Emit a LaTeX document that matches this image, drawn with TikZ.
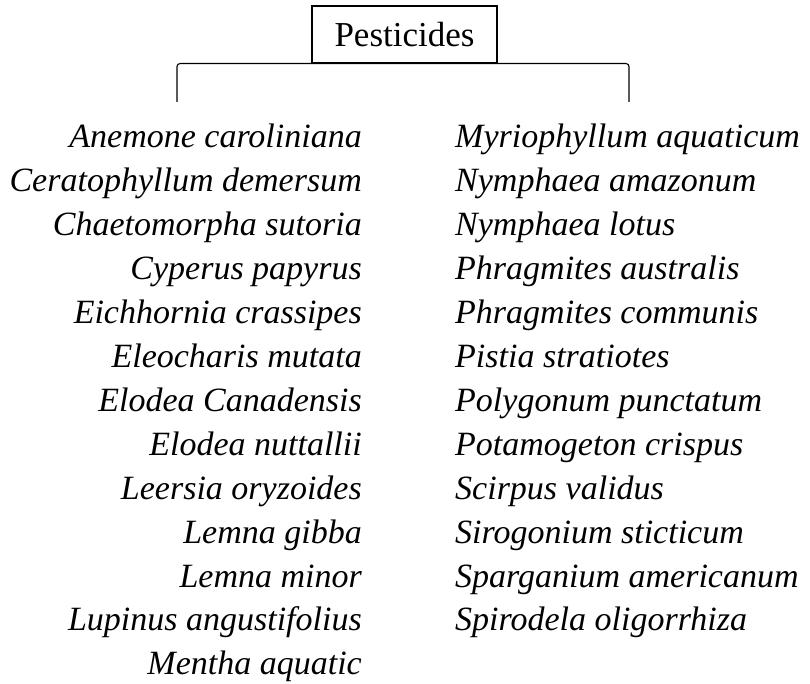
\documentclass[tikz,border=0pt]{standalone}
\usepackage{fontspec}
\setmainfont{Liberation Serif}
\tikzset{
  titlebox/.style={draw,line width=1.1pt,minimum width=185pt,minimum height=57pt,inner sep=0pt,font=\fontsize{35}{40}\selectfont},
  plantleft/.style={anchor=base east,inner sep=0pt,font=\fontsize{34}{40}\selectfont\itshape},
  plantright/.style={anchor=base west,inner sep=0pt,font=\fontsize{34}{40}\selectfont\itshape},
  bracket/.style={line width=1.1pt,rounded corners=3pt}
}
\begin{document}
\begin{tikzpicture}[x=1pt,y=-1pt]
  \useasboundingbox (0,0) rectangle (810,684);
  \node[titlebox] (title) at (404.5,34.5) {Pesticides};
  \coordinate (bl) at (177,102);
  \coordinate (br) at (629,102);
  \draw[bracket] (bl) |- (title.south) -| (br);
  \foreach \name [count=\i] in {Anemone caroliniana,Ceratophyllum demersum,
      Chaetomorpha sutoria,Cyperus papyrus,Eichhornia crassipes,Eleocharis mutata,
      Elodea Canadensis,Elodea nuttallii,Leersia oryzoides,Lemna gibba,
      Lemna minor,Lupinus angustifolius,Mentha aquatic}
    \node[plantleft] (l\i) at (362,{148+(\i-1)*43.9}) {\name};
  \foreach \name [count=\i] in {Myriophyllum aquaticum,Nymphaea amazonum,
      Nymphaea lotus,Phragmites australis,Phragmites communis,Pistia stratiotes,
      Polygonum punctatum,Potamogeton crispus,Scirpus validus,
      Sirogonium sticticum,Sparganium americanum,Spirodela oligorrhiza}
    \node[plantright] (r\i) at (455,{148+(\i-1)*43.9}) {\name};
\end{tikzpicture}
\end{document}
